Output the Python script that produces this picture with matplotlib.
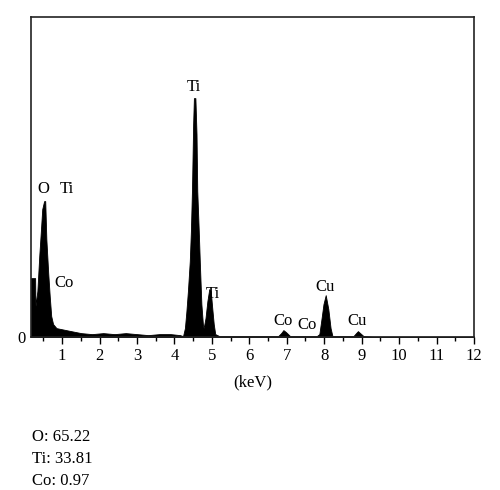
import matplotlib
matplotlib.use('Agg')
import matplotlib.pyplot as plt

plt.rcParams['font.family'] = ['Liberation Serif', 'DejaVu Serif']

# spectrum outline (keV, counts in arbitrary units)
energy = [0.17, 0.28, 0.29, 0.34, 0.39, 0.43, 0.47, 0.52, 0.55, 0.58,
          0.63, 0.67, 0.71, 0.76, 0.85, 0.98, 1.24, 1.51, 1.8, 2.1,
          2.4, 2.7, 3.0, 3.3, 3.6, 3.9, 4.15,
          4.23, 4.28, 4.32, 4.36, 4.41, 4.44, 4.47, 4.50, 4.52, 4.56,
          4.59, 4.61, 4.65, 4.68, 4.72, 4.76, 4.78, 4.83, 4.88, 4.93,
          4.97, 5.01, 5.05, 5.09, 5.2, 5.6, 6.0, 6.4, 6.7,
          6.77, 6.85, 6.91, 6.98, 7.09, 7.2, 7.5, 7.8,
          7.87, 7.93, 7.98, 8.04, 8.11, 8.17, 8.22, 8.4, 8.6,
          8.78, 8.85, 8.90, 8.96, 9.05, 9.3, 10.0, 11.0, 12.0]
counts = [59, 59, 31, 46, 81, 104, 128, 136, 136, 98,
          64, 41, 21, 13, 9, 8, 6, 4, 3, 4,
          3, 4, 3, 2, 3, 3, 2,
          1, 9, 26, 46, 76, 106, 149, 213, 239, 239,
          203, 146, 106, 73, 33, 13, 9, 19, 36, 48,
          46, 29, 13, 3, 1, 1, 1, 1, 1,
          1, 4, 7, 5, 1, 1, 1, 1,
          3, 19, 33, 42, 28, 9, 1, 1, 1,
          1, 4, 6, 4, 1, 0.5, 0.5, 0.5, 0.5]

# peak labels
peak_names = ['O', 'Ti', 'Co', 'Ti', 'Ti', 'Co', 'Co', 'Cu', 'Cu']
peak_x = [0.49, 1.12, 1.04, 4.52, 5.03, 6.90, 7.54, 8.02, 8.88]
peak_y = [148, 148, 54, 250, 43, 16, 12, 50, 16]

composition = ['O: 65.22', 'Ti: 33.81', 'Co: 0.97']

fig = plt.figure(figsize=(5, 4.9), dpi=100)
ax = fig.add_axes([0.062, 0.312, 0.886, 0.653])

ax.fill_between(energy, counts, 0, color='black', linewidth=0.6, edgecolor='black')

for name, x, y in zip(peak_names, peak_x, peak_y):
    ax.text(x, y, name, ha='center', va='center', fontsize=12)

ax.set_xlim(0.17, 12)
ax.set_ylim(0, 320)
ax.set_xticks(range(1, 13))
ax.set_xticks([i + 0.5 for i in range(0, 12)], minor=True)
ax.set_yticks([0])
ax.tick_params(axis='x', which='major', direction='out', length=5, width=1,
               labelsize=12, pad=3)
ax.tick_params(axis='x', which='minor', direction='out', length=3, width=1)
ax.tick_params(axis='y', length=0, labelsize=12, pad=4)
for s in ax.spines.values():
    s.set_linewidth(1.2)
    s.set_color('#222222')

ax.set_xlabel('(keV)', fontsize=12, labelpad=7)

for i, line in enumerate(composition):
    fig.text(0.064, 0.108 - i * 0.045, line, ha='left', va='center', fontsize=12)

fig.savefig('out.png', dpi=100)
